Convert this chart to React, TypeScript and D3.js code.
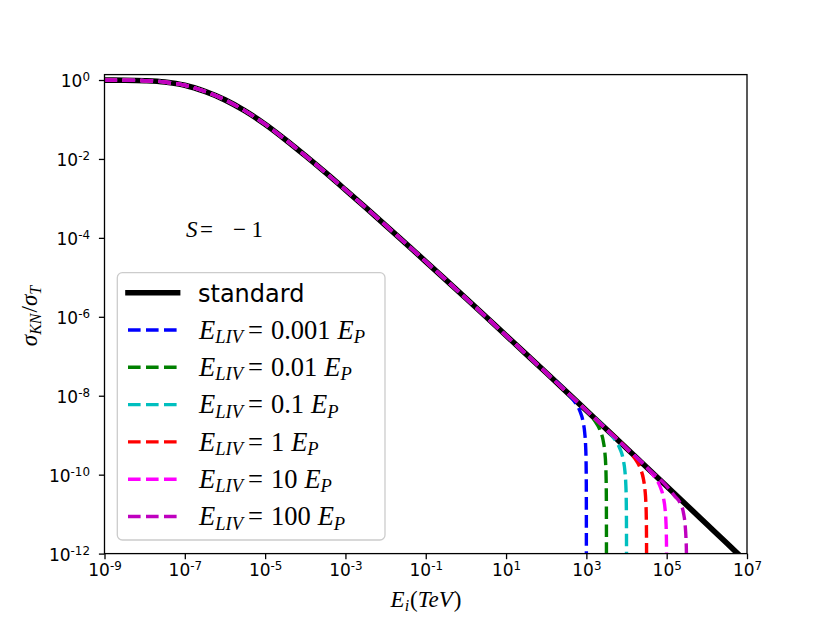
import React, { useEffect, useRef } from 'react';
import * as d3 from 'd3';

// log10(E_i / TeV), one sample every half decade
const logE = [
  -9, -8.5, -8, -7.5, -7, -6.5, -6, -5.5, -5, -4.5, -4, -3.5, -3, -2.5, -2, -1.5, -1,
  -0.5, 0, 0.5, 1, 1.5, 2, 2.5, 3, 3.5, 4, 4.5, 5, 5.5, 6, 6.5, 7,
];

// log10(sigma_KN / sigma_T) of the standard curve
const stdLogSigma = [
  -0.002, -0.005, -0.017, -0.05, -0.133, -0.29, -0.503, -0.782, -1.12, -1.506, -1.917,
  -2.343, -2.783, -3.229, -3.682, -4.139, -4.6, -5.064, -5.531, -6.0, -6.472, -6.945,
  -7.419, -7.895, -8.373, -8.851, -9.331, -9.811, -10.292, -10.774, -11.257, -11.74,
  -12.224,
];

const livLabels = ['0.001', '0.01', '0.1', '1', '10', '100'];
const livColors = ['#0000ff', '#008000', '#00bfbf', '#ff0000', '#ff00ff', '#bf00bf'];

// where each LIV curve leaves the standard one and drops: [log10 E, log10 sigma]
const livTails: [number, number][][] = [
  [[2.7, -8.142], [2.84, -8.394], [2.92, -8.669], [2.96, -8.953], [2.98, -9.243], [2.992, -9.635], [2.998, -10.231], [2.9996, -10.933], [3.0, -13]],
  [[3.2, -8.62], [3.34, -8.872], [3.42, -9.147], [3.46, -9.431], [3.48, -9.721], [3.492, -10.113], [3.498, -10.709], [3.4996, -11.411], [3.5, -13]],
  [[3.7, -9.1], [3.84, -9.352], [3.92, -9.627], [3.96, -9.911], [3.98, -10.201], [3.992, -10.593], [3.998, -11.189], [3.9996, -11.891], [4.0, -13]],
  [[4.2, -9.58], [4.34, -9.832], [4.42, -10.107], [4.46, -10.391], [4.48, -10.681], [4.492, -11.073], [4.498, -11.669], [4.4996, -12.371], [4.5, -13]],
  [[4.7, -10.061], [4.84, -10.313], [4.92, -10.588], [4.96, -10.872], [4.98, -11.162], [4.992, -11.554], [4.998, -12.15], [4.9996, -12.852], [5.0, -13.5]],
  [[5.2, -10.543], [5.34, -10.73], [5.42, -10.98], [5.46, -11.28], [5.48, -11.6], [5.492, -12.0], [5.498, -12.632], [5.4996, -13.334], [5.5, -14]],
];

const xTickExp = [-9, -7, -5, -3, -1, 1, 3, 5, 7];
const yTickExp = [0, -2, -4, -6, -8, -10, -12];

const MATH = "'Liberation Serif', 'DejaVu Serif', serif";
const SANS = "'DejaVu Sans', sans-serif";

const App: React.FC = () => {
  const ref = useRef<SVGSVGElement | null>(null);

  useEffect(() => {
    const svg = d3.select(ref.current);
    svg.selectAll('*').remove();

    const left = 104.5;
    const right = 747;
    const top = 74.6;
    const bottom = 553.6;

    const x = d3.scaleLog().domain([1e-9, 1e7]).range([left, right]);
    const y = d3.scaleLog().domain([1e-12, Math.pow(10, 0.137)]).range([bottom, top]);

    svg
      .append('defs')
      .append('clipPath')
      .attr('id', 'plot-clip')
      .append('rect')
      .attr('x', left)
      .attr('y', top)
      .attr('width', right - left)
      .attr('height', bottom - top);

    const stdPoints: [number, number][] = logE.map((e, i) => [Math.pow(10, e), Math.pow(10, stdLogSigma[i])]);

    const line = d3
      .line<[number, number]>()
      .x((d) => x(d[0]))
      .y((d) => y(d[1]))
      .curve(d3.curveMonotoneX);

    const plot = svg.append('g').attr('clip-path', 'url(#plot-clip)');

    plot
      .append('path')
      .datum(stdPoints)
      .attr('d', line)
      .attr('fill', 'none')
      .attr('stroke', '#000')
      .attr('stroke-width', 5.6);

    livTails.forEach((tail, k) => {
      const start = tail[0][0];
      const pts: [number, number][] = [
        ...logE
          .map((e, i) => [e, stdLogSigma[i]] as [number, number])
          .filter((d) => d[0] < start - 0.01),
        ...tail,
      ].map((d) => [Math.pow(10, d[0]), Math.pow(10, d[1])] as [number, number]);
      plot
        .append('path')
        .datum(pts)
        .attr('d', line)
        .attr('fill', 'none')
        .attr('stroke', livColors[k])
        .attr('stroke-width', 3.4)
        .attr('stroke-dasharray', '12.6,5.4');
    });

    // Axes
    const xAxis = d3
      .axisBottom(x)
      .tickValues(xTickExp.map((e) => Math.pow(10, e)))
      .tickFormat(() => '')
      .tickSize(5.6)
      .tickSizeOuter(0);
    const gx = svg.append('g').attr('transform', `translate(0,${bottom})`).call(xAxis);
    gx.select('.domain').remove();
    gx.selectAll('line').attr('stroke', '#000').attr('stroke-width', 1.3);
    gx.selectAll('.tick').each(function (_, i) {
      const t = d3.select(this).append('text').attr('x', 0).attr('y', 22.6).attr('fill', '#000')
        .attr('text-anchor', 'middle').style('font-family', SANS).style('font-size', '17px');
      t.append('tspan').text('10');
      t.append('tspan').attr('dy', -6).style('font-size', '11.9px').text(String(xTickExp[i]));
    });

    const yAxis = d3
      .axisLeft(y)
      .tickValues(yTickExp.map((e) => Math.pow(10, e)))
      .tickFormat(() => '')
      .tickSize(5.6)
      .tickSizeOuter(0);
    const gy = svg.append('g').attr('transform', `translate(${left},0)`).call(yAxis);
    gy.select('.domain').remove();
    gy.selectAll('line').attr('stroke', '#000').attr('stroke-width', 1.3);
    gy.selectAll('.tick').each(function (_, i) {
      const t = d3.select(this).append('text').attr('x', -14.5).attr('y', 6.8).attr('fill', '#000')
        .attr('text-anchor', 'end').style('font-family', SANS).style('font-size', '17px');
      t.append('tspan').text('10');
      t.append('tspan').attr('dy', -6).style('font-size', '11.9px').text(String(yTickExp[i]));
    });

    // Frame
    svg
      .append('rect')
      .attr('x', left)
      .attr('y', top)
      .attr('width', right - left)
      .attr('height', bottom - top)
      .attr('fill', 'none')
      .attr('stroke', '#000')
      .attr('stroke-width', 1.3);

    // Axis labels
    const xl = svg.append('text').attr('x', 426).attr('y', 607).attr('text-anchor', 'middle')
      .style('font-family', MATH).style('font-size', '23px');
    xl.append('tspan').style('font-style', 'italic').text('E');
    xl.append('tspan').style('font-style', 'italic').style('font-size', '16px').attr('dy', 4).text('i');
    xl.append('tspan').attr('dy', -4).attr('dx', 1).text('(');
    xl.append('tspan').style('font-style', 'italic').text('TeV');
    xl.append('tspan').attr('dx', 1).text(')');

    const yl = svg.append('text').attr('transform', 'translate(37,316) rotate(-90)').attr('text-anchor', 'middle')
      .style('font-family', MATH).style('font-size', '23px');
    yl.append('tspan').style('font-style', 'italic').text('σ');
    yl.append('tspan').style('font-style', 'italic').style('font-size', '16px').attr('dy', 4).text('KN');
    yl.append('tspan').attr('dy', -4).attr('dx', 1).text('/');
    yl.append('tspan').style('font-style', 'italic').text('σ');
    yl.append('tspan').style('font-style', 'italic').style('font-size', '16px').attr('dy', 4).text('T');

    // S = -1 annotation
    const st = svg.append('text').attr('y', 236.7).style('font-family', MATH).style('font-size', '23px');
    st.append('tspan').attr('x', 186).style('font-style', 'italic').text('S');
    st.append('tspan').attr('x', 200).text('=');
    st.append('tspan').attr('x', 233).text('\u2212');
    st.append('tspan').attr('x', 251.5).text('1');

    // Legend
    const lg = svg.append('g');
    lg.append('rect')
      .attr('x', 117.3)
      .attr('y', 272.7)
      .attr('width', 267.7)
      .attr('height', 267.3)
      .attr('rx', 5)
      .attr('fill', '#fff')
      .attr('fill-opacity', 0.8)
      .attr('stroke', '#cccccc')
      .attr('stroke-width', 1.3);

    const rowY = (i: number) => 292.7 + i * 37.3;
    lg.append('line')
      .attr('x1', 128).attr('x2', 177.6).attr('y1', rowY(0)).attr('y2', rowY(0))
      .attr('stroke', '#000').attr('stroke-width', 5.6).attr('stroke-linecap', 'square');
    lg.append('text').attr('x', 198).attr('y', rowY(0) + 9).style('font-family', SANS)
      .style('font-size', '24px').text('standard');

    livLabels.forEach((lab, k) => {
      const cy = rowY(k + 1);
      lg.append('line')
        .attr('x1', 128).attr('x2', 177.6).attr('y1', cy).attr('y2', cy)
        .attr('stroke', livColors[k]).attr('stroke-width', 3.4).attr('stroke-dasharray', '12.6,5.4');
      const t = lg.append('text').attr('x', 199).attr('y', cy + 8.6)
        .style('font-family', MATH).style('font-size', '26.5px');
      t.append('tspan').style('font-style', 'italic').text('E');
      t.append('tspan').style('font-style', 'italic').style('font-size', '18.5px').attr('dy', 4.5).text('LIV');
      t.append('tspan').attr('dy', -4.5).attr('dx', 5).text('=');
      t.append('tspan').attr('dx', 8).text(lab);
      t.append('tspan').style('font-style', 'italic').attr('dx', 7).text('E');
      t.append('tspan').style('font-style', 'italic').style('font-size', '18.5px').attr('dy', 4.5).text('P');
    });
  }, []);

  return (
    <svg
      ref={ref}
      width={830}
      height={622}
      style={{ position: 'absolute', left: 0, top: 0, background: '#fff' }}
    />
  );
};

export default App;
